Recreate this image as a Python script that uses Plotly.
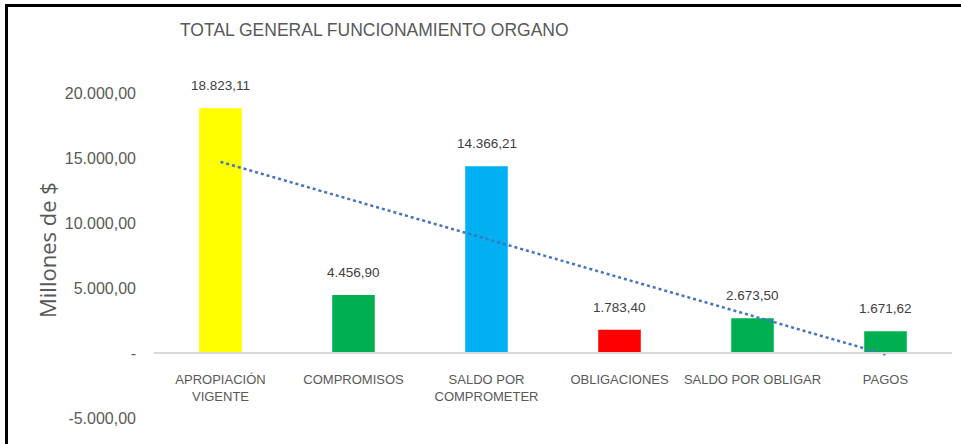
import numpy as np
import plotly.graph_objects as go

categories = ["APROPIACIÓN<br>VIGENTE", "COMPROMISOS", "SALDO POR<br>COMPROMETER",
              "OBLIGACIONES", "SALDO POR OBLIGAR", "PAGOS"]
values = [18823.11, 4456.90, 14366.21, 1783.40, 2673.50, 1671.62]
bar_colors = ["#FFFF00", "#00B050", "#00B0F0", "#FF0000", "#00B050", "#00B050"]
y_tickvals = [-5000, 0, 5000, 10000, 15000, 20000]
y_ticktext = ["-5.000,00", "-", "5.000,00", "10.000,00", "15.000,00", "20.000,00"]
title_text = "TOTAL GENERAL FUNCIONAMIENTO ORGANO"
y_title = "Millones de $"


def fmt_es(v):
    s = f"{v:,.2f}"
    return s.replace(",", "X").replace(".", ",").replace("X", ".")


W, H = 961, 444
L, R, T, B = 154, 9, 93, 26
pw = W - L - R
ph = H - T - B
NARROW = "Liberation Sans Narrow, Arial Narrow, Liberation Sans, Arial, sans-serif"

fig = go.Figure()
fig.add_trace(go.Bar(
    x=categories, y=values, marker=dict(color=bar_colors, line=dict(width=0)),
    showlegend=False, hoverinfo="skip", cliponaxis=False,
))

# linear trendline (least squares over category index)
idx = np.arange(1, len(values) + 1)
slope, intercept = np.polyfit(idx, values, 1)
trend_y = [slope * idx[0] + intercept, slope * idx[-1] + intercept]
fig.add_trace(go.Scatter(
    x=[categories[0], categories[-1]], y=trend_y, mode="lines",
    line=dict(color="#4472C4", width=2.5, dash="dot"),
    showlegend=False, hoverinfo="skip", cliponaxis=False,
))

annotations = []
for c, v in zip(categories, values):
    annotations.append(dict(
        x=c, y=v, xref="x", yref="y", text=fmt_es(v), showarrow=False,
        yanchor="bottom", yshift=13,
        font=dict(family=NARROW, size=13.5, color="#404040"),
    ))
annotations.append(dict(
    x=(47 - L) / pw, y=(H - 250 - B) / ph, xref="paper", yref="paper", text=y_title, showarrow=False,
    textangle=-90, xanchor="center", yanchor="middle",
    font=dict(family="Open Sans, sans-serif", size=22, color="#595959"),
))

y0, y1 = -5000, 20000
fig.update_layout(
    width=W, height=H,
    margin=dict(l=L, r=R, t=T, b=B, autoexpand=False),
    paper_bgcolor="white", plot_bgcolor="white",
    bargap=0.68,
    title=dict(
        text=title_text, xref="container", yref="container",
        x=180 / W, xanchor="left", y=1 - 30 / H, yanchor="middle",
        font=dict(family=NARROW, size=17.5, color="#595959"),
    ),
    xaxis=dict(
        anchor="free", position=(0 - y0) / (y1 - y0),
        showline=True, linecolor="#D9D9D9", linewidth=2,
        showgrid=False, zeroline=False, ticks="", ticklabelstandoff=14,
        tickangle=0, automargin=False,
        tickfont=dict(family=NARROW, size=13, color="#595959"),
        fixedrange=True,
    ),
    yaxis=dict(
        range=[y0, y1], tickvals=y_tickvals, ticktext=y_ticktext,
        showgrid=False, zeroline=False, showline=False, ticks="", ticklabelstandoff=17,
        automargin=False,
        tickfont=dict(family="Liberation Sans, Arial, sans-serif", size=16, color="#595959"),
        fixedrange=True,
    ),
    annotations=annotations,
    shapes=[
        dict(type="line", xref="paper", yref="paper",
             x0=(5 - L) / pw, x1=(W - L) / pw, y0=(H - 5.5 - B) / ph, y1=(H - 5.5 - B) / ph,
             line=dict(color="black", width=3)),
        dict(type="line", xref="paper", yref="paper",
             x0=(6.5 - L) / pw, x1=(6.5 - L) / pw, y0=(H - 4 - B) / ph, y1=(0 - B) / ph,
             line=dict(color="black", width=3)),
    ],
)

fig.write_html(
    "out.html",
    config={"displayModeBar": False},
    post_script="document.body.style.margin='0';document.body.style.overflow='hidden';",
)
